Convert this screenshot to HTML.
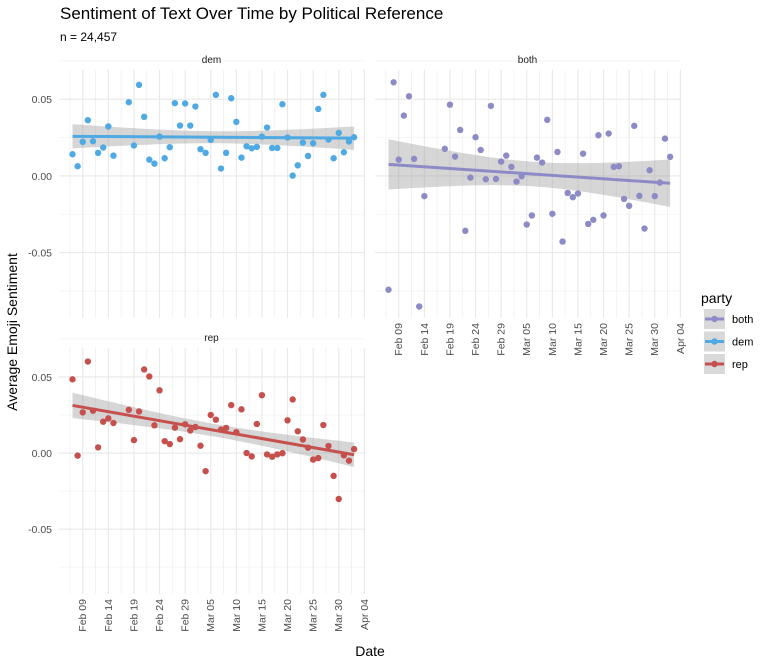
<!DOCTYPE html>
<html><head><meta charset="utf-8"><style>
body{margin:0;background:#fff;}
svg{font-family:"Liberation Sans",sans-serif;display:block;}
</style></head><body>
<svg id="chart" width="767" height="662">
<text x="60" y="19" font-size="17" fill="#000">Sentiment of Text Over Time by Political Reference</text>
<text x="60" y="41" font-size="12" fill="#000">n = 24,457</text>
<text transform="translate(17,332) rotate(-90)" text-anchor="middle" font-size="14" fill="#000">Average Emoji Sentiment</text>
<text x="370" y="656" text-anchor="middle" font-size="14" fill="#000">Date</text>
<g id="legend">
<text x="701" y="303" font-size="14" fill="#000">party</text>
</g>
</svg>
<script>
const days = Array.from({length:56},(_,i)=>i); // days since Feb 07
const demValues = [0.0141,0.0063,0.0222,0.0363,0.0226,0.0150,0.0185,0.0322,0.0132,null,null,0.0480,0.0198,0.0593,0.0385,0.0106,0.0080,0.0256,0.0115,0.0187,0.0474,0.0328,0.0472,0.0328,0.0452,0.0174,0.0150,0.0235,0.0528,0.0048,0.0150,0.0506,0.0352,0.0119,0.0193,0.0180,0.0189,0.0256,0.0315,0.0182,0.0182,0.0467,0.0250,0.0002,0.0069,0.0217,0.0130,0.0213,0.0436,0.0528,0.0237,0.0115,0.0280,0.0154,0.0224,0.0252];
const bothValues = [-0.0742,0.0610,0.0106,0.0393,0.0519,0.0111,-0.0851,-0.0132,null,null,null,0.0176,0.0464,0.0126,0.0299,-0.0358,-0.0011,0.0252,0.0169,-0.0022,0.0456,-0.0020,0.0093,0.0132,0.0059,-0.0037,-0.0002,-0.0317,-0.0258,0.0119,0.0087,0.0365,-0.0247,0.0156,-0.0428,-0.0111,-0.0139,-0.0115,0.0145,-0.0313,-0.0286,0.0265,-0.0258,0.0276,0.0059,0.0063,-0.0150,-0.0195,0.0326,-0.0130,-0.0343,0.0037,-0.0132,-0.0043,0.0243,0.0124];
const repValues = [0.0484,-0.0017,0.0267,0.0601,0.0278,0.0037,0.0206,0.0228,0.0197,null,null,0.0284,0.0085,0.0273,0.0549,0.0503,0.0182,0.0412,0.0078,0.0059,0.0167,0.0091,0.0189,0.0148,0.0171,0.0048,-0.0119,0.0250,0.0219,0.0154,0.0165,0.0315,0.0137,0.0287,0.0000,-0.0022,0.0191,0.0380,-0.0009,-0.0024,-0.0009,-0.0001,0.0215,0.0352,0.0143,0.0089,0.0035,-0.0043,-0.0033,0.0184,0.0046,-0.0150,-0.0302,-0.0015,-0.0050,0.0026];
const xTickDays = [2,7,12,17,22,27,32,37,42,47,52,57];
const xTickLabels = ["Feb 09","Feb 14","Feb 19","Feb 24","Feb 29","Mar 05","Mar 10","Mar 15","Mar 20","Mar 25","Mar 30","Apr 04"];
const yTicks = [0.05,0,-0.05];
const yTickLabels = ["0.05","0.00","-0.05"];
const parties = ["both","dem","rep"];
const colors = {dem:"#4fa9e2",both:"#8d8bc6",rep:"#c6504e"};

const NS="http://www.w3.org/2000/svg";
const svg=document.getElementById('chart');
function mk(tag,attrs,parent){const e=document.createElementNS(NS,tag);for(const k in attrs)e.setAttribute(k,attrs[k]);(parent||svg).appendChild(e);return e;}

const panels=[
 {name:"dem",vals:demValues,left:59,top:70,bottom:318,ylabels:true,xlabels:false},
 {name:"both",vals:bothValues,left:375,top:70,bottom:318,ylabels:false,xlabels:true},
 {name:"rep",vals:repValues,left:59,top:348,bottom:594,ylabels:true,xlabels:true}
];
const W=305, yMax=0.069, yMin=-0.0926;

panels.forEach(p=>{
  const g=mk('g',{});
  
  
  const xs=d=>p.left+13.5+5.12*d;
  const ys=v=>p.top+(yMax-v)/(yMax-yMin)*(p.bottom-p.top);
  // minor grid
  for(let v=-0.075;v<=0.076;v+=0.05){const l=mk('line',{x1:p.left,x2:p.left+W,y1:ys(v),y2:ys(v),stroke:"#f3f3f3","stroke-width":0.8},g);}
  for(let d=-0.5;d<=58;d+=5){const l=mk('line',{x1:xs(d),x2:xs(d),y1:p.top,y2:p.bottom,stroke:"#f0f0f0","stroke-width":0.8},g);}
  // major grid
  yTicks.forEach(v=>{const l=mk('line',{x1:p.left,x2:p.left+W,y1:ys(v),y2:ys(v),stroke:"#e8e8e8","stroke-width":1.1},g);});
  xTickDays.forEach(d=>{const l=mk('line',{x1:xs(d),x2:xs(d),y1:p.top,y2:p.bottom,stroke:"#e8e8e8","stroke-width":1.1},g);});
  // strip
  const st=mk('text',{x:p.left+W/2,y:p.top-7,"text-anchor":"middle","font-size":10,fill:"#1a1a1a"},g);st.textContent=p.name;
  
  if(p.ylabels){yTicks.forEach((v,i)=>{const t=mk('text',{x:p.left-7,y:ys(v)+4,"text-anchor":"end","font-size":10.5,fill:"#4d4d4d"},g);t.textContent=yTickLabels[i];});}
  if(p.xlabels){xTickDays.forEach((d,i)=>{const t=mk('text',{transform:`translate(${xs(d)+3.5},${p.bottom+5}) rotate(-90)`,"text-anchor":"end","font-size":10.5,fill:"#4d4d4d"},g);t.textContent=xTickLabels[i];});}
  // regression
  const pts=[];days.forEach((d,i)=>{if(p.vals[i]!==null)pts.push([d,p.vals[i]]);});
  const n=pts.length,mx=pts.reduce((a,q)=>a+q[0],0)/n,my=pts.reduce((a,q)=>a+q[1],0)/n;
  let sxx=0,sxy=0;pts.forEach(q=>{sxx+=(q[0]-mx)**2;sxy+=(q[0]-mx)*(q[1]-my);});
  const b=sxy/sxx,a=my-b*mx;let sse=0;pts.forEach(q=>{sse+=(q[1]-a-b*q[0])**2;});
  const s=Math.sqrt(sse/(n-2)),t=2.006;
  const d0=pts[0][0],d1=pts[n-1][0];const up=[],lo=[];
  for(let k=0;k<=40;k++){const d=d0+(d1-d0)*k/40;const f=a+b*d;const se=s*Math.sqrt(1/n+(d-mx)**2/sxx);up.push(xs(d)+','+ys(f+t*se));lo.unshift(xs(d)+','+ys(f-t*se));}
  const rb=mk('polygon',{points:up.concat(lo).join(' '),fill:"#999",opacity:0.4},g);
  
  pts.forEach(q=>{const c=mk('circle',{cx:xs(q[0]),cy:ys(q[1]),r:3.2,fill:colors[p.name]},g);});
  const ln=mk('line',{x1:xs(d0),y1:ys(a+b*d0),x2:xs(d1),y2:ys(a+b*d1),stroke:colors[p.name],"stroke-width":3},g);
  
});

const lg=document.getElementById('legend');
parties.forEach((pt,i)=>{
  const y=319+i*22.5;
  const e=mk('g',{},lg);
  
  
  mk('rect',{x:704,y:y-10,width:21,height:20,fill:"#d9d9d9"},e);
  mk('line',{x1:705,x2:724,y1:y,y2:y,stroke:colors[pt],"stroke-width":3},e);
  mk('circle',{cx:714.5,cy:y,r:3.2,fill:colors[pt]},e);
  const t=mk('text',{x:732,y:y+4,"font-size":11,fill:"#000"},e);t.textContent=pt;
});
</script>
</body></html>
